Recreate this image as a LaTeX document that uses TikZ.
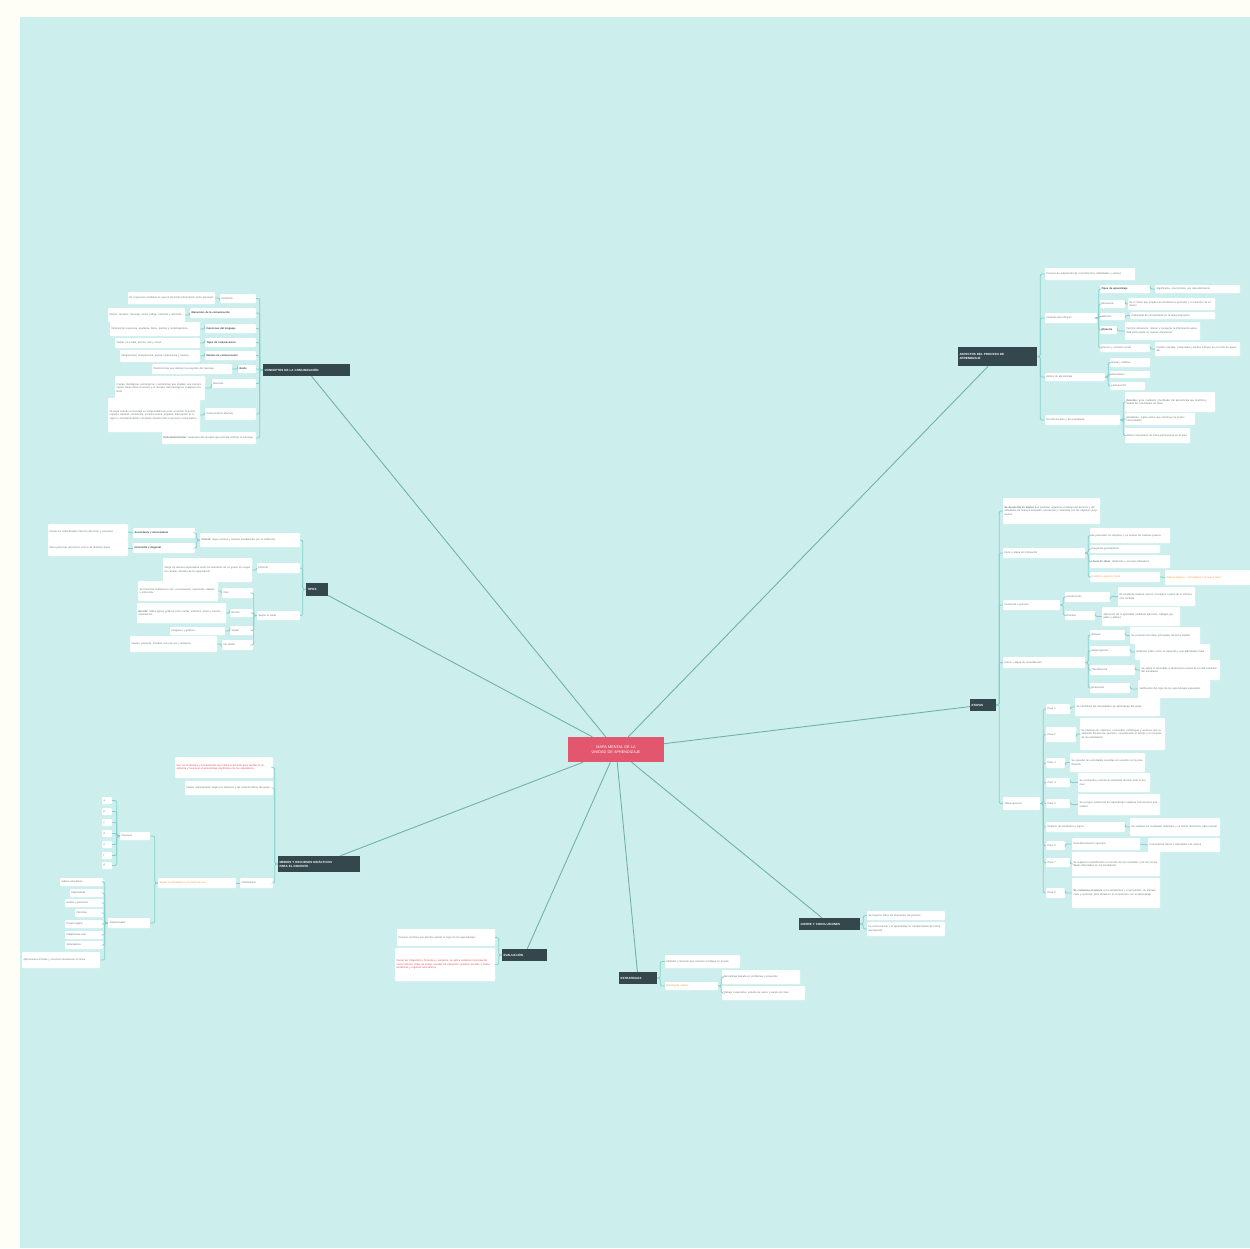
\documentclass[tikz,border=0pt]{standalone}
\usepackage{fontspec}
\setmainfont{Liberation Sans}
\definecolor{bgteal}{HTML}{CCEFEE}
\definecolor{cream}{HTML}{FEFDF6}
\definecolor{mainred}{HTML}{E2576D}
\definecolor{topicdk}{HTML}{33474D}
\definecolor{lnk}{HTML}{86CFCA}
\definecolor{leaftxt}{HTML}{6E7A7C}
\definecolor{orng}{HTML}{E6A24A}
\definecolor{rdt}{HTML}{E0505A}
\tikzset{
 leaf/.style={fill=white, rounded corners=1pt, text=leaftxt, font=\fontsize{2.6}{3.5}\selectfont, align=left, inner xsep=1.5pt, inner ysep=0.5pt},
 leafb/.style={leaf, text=topicdk, font=\fontsize{2.6}{3.5}\selectfont\bfseries},
 leafo/.style={leaf, text=orng},
 leafr/.style={leaf, text=rdt},
 topic/.style={fill=topicdk, text=white, font=\fontsize{3}{4}\selectfont\bfseries, align=left, inner xsep=1.5pt, inner ysep=0.5pt},
 central/.style={fill=mainred, text=white, font=\fontsize{3.8}{4.8}\selectfont, align=center, inner xsep=1.5pt},
 conn/.style={draw=lnk, line width=0.8pt, rounded corners=2pt},
 mainconn/.style={draw=lnk!85!black, line width=0.9pt},
}
\newcommand\mmbox[7][leaf]{%
 \pgfmathsetmacro\mmw{#5-(#3)}%
 \pgfmathsetmacro\mmh{#6-(#4)}%
 \pgfmathsetmacro\mmt{max(#5-(#3)-3,1)}%
 \pgfmathsetmacro\mmx{(#3+#5)/2}%
 \pgfmathsetmacro\mmy{(#4+#6)/2}%
 \node[#1, minimum width=\mmw pt, minimum height=\mmh pt, text width=\mmt pt] (#2) at (\mmx,\mmy) {#7};}
\newcommand\lnkL[2]{\draw[conn] (#1.west) -- ++(-3,0) |- (#2.east);}
\newcommand\lnkR[2]{\draw[conn] (#1.east) -- ++(3,0) |- (#2.west);}
\begin{document}
\begin{tikzpicture}[x=1pt,y=-1pt]
\useasboundingbox (0,0) rectangle (1250,1248);
\fill[cream] (0,0) rectangle (1250,1248);
\fill[bgteal] (20,17) rectangle (1250,1248);

% ---------- central and topics ----------
\mmbox[central]{c}{568}{737}{664}{762}{MAPA MENTAL DE LA\\ UNIDAD DE APRENDIZAJE}
\mmbox[topic]{tl}{263}{364}{350}{376}{CONCEPTOS DE LA COMUNICACIÓN}
\mmbox[topic]{tr}{958}{347}{1037}{366}{ASPECTOS DEL PROCESO DE\\ APRENDIZAJE}
\mmbox[topic]{lt}{306}{583}{328}{596}{TIPOS}
\mmbox[topic]{rt}{970}{699}{996}{711}{ETAPAS}
\mmbox[topic]{bl}{278}{856}{360}{872}{MEDIOS Y RECURSOS DIDÁCTICOS\\ PARA EL DOCENTE}
\mmbox[topic]{bm}{502}{949}{547}{961}{EVALUACIÓN}
\mmbox[topic]{bt}{619}{972}{657}{984}{ESTRATEGIAS}
\mmbox[topic]{br}{799}{918}{860}{930}{CIERRE Y CONCLUSIONES}

\draw[mainconn] (c) -- (tl);
\draw[mainconn] (c) -- (tr);
\draw[mainconn] (c) -- (lt);
\draw[mainconn] (c) -- (rt);
\draw[mainconn] (c) -- (bl);
\draw[mainconn] (c) -- (bm);
\draw[mainconn] (c) -- (bt);
\draw[mainconn] (c) -- (br);

% ---------- top left ----------
\mmbox{tl1}{220}{294}{256}{303}{Definición}
\mmbox{tl1a}{128}{292}{215}{304}{Es el proceso mediante el cual se transmite información entre personas}
\mmbox[leafb]{tl2}{190}{308}{256}{318}{Elementos de la comunicación}
\mmbox{tl2a}{108}{308}{185}{322}{Emisor, receptor, mensaje, canal, código, contexto y referente}
\mmbox[leafb]{tl3}{205}{324}{256}{333}{Funciones del lenguaje}
\mmbox{tl3a}{110}{322}{200}{336}{Referencial, expresiva, apelativa, fática, poética y metalingüística}
\mmbox[leafb]{tl4}{205}{338}{256}{347}{Tipos de comunicación}
\mmbox{tl4a}{115}{338}{200}{348}{Verbal, no verbal, escrita, oral y visual}
\mmbox[leafb]{tl5}{205}{351}{256}{360}{Niveles de comunicación}
\mmbox{tl5a}{120}{350}{200}{362}{Intrapersonal, interpersonal, grupal, institucional y masiva}
\mmbox[leafb]{tl6}{238}{365}{256}{373}{Ruido}
\mmbox{tl6a}{152}{364}{232}{374}{Interferencias que afectan la recepción del mensaje}
\mmbox{tl7}{212}{379}{256}{388}{Barreras}
\mmbox{tl7a}{115}{376}{205}{400}{Físicas, fisiológicas, psicológicas y semánticas que impiden una comunicación eficaz entre el emisor y el receptor del mensaje en cualquier contexto}
\mmbox{tl8}{205}{408}{256}{420}{Comunicación efectiva}
\mmbox{tl8a}{108}{398}{200}{432}{Se logra cuando el mensaje es comprendido tal como el emisor lo pensó; requiere claridad, coherencia, escucha activa, empatía, adecuación al receptor y retroalimentación constante durante todo el proceso comunicativo}
\mmbox{tl9}{162}{432}{256}{444}{\textbf{Retroalimentación:} respuesta del receptor que permite verificar el mensaje}
\foreach \k in {tl1,tl2,tl3,tl4,tl5,tl6,tl7,tl8,tl9} {\lnkL{tl}{\k}}
\foreach \k in {tl1,tl2,tl3,tl4,tl5,tl6,tl7,tl8} {\draw[conn] (\k.west) -- (\k a.east -| \k.west) -- (\k a.east);}

% ---------- top right ----------
\mmbox{tr1}{1045}{268}{1135}{280}{Proceso de adquisición de conocimientos, habilidades y valores}
\mmbox{tr2}{1045}{313}{1097}{323}{Factores que influyen}
\mmbox[leafb]{tr2a}{1100}{285}{1150}{293}{Tipos de aprendizaje}
\mmbox{tr2a1}{1155}{285}{1240}{293}{Significativo, memorístico, por descubrimiento}
\mmbox{tr2b}{1100}{300}{1125}{308}{Motivación}
\mmbox{tr2b1}{1128}{298}{1215}{310}{Es el motor que impulsa al estudiante a aprender y a mantener su esfuerzo}
\mmbox{tr2c}{1100}{313}{1125}{320}{Atención}
\mmbox{tr2c1}{1130}{312}{1215}{319}{Capacidad de concentrarse en la tarea propuesta}
\mmbox[leafb]{tr2d}{1100}{326}{1117}{334}{Memoria}
\mmbox{tr2d1}{1125}{322}{1200}{340}{Permite almacenar, retener y recuperar la información aprendida para usarla en nuevas situaciones}
\mmbox{tr2e}{1100}{344}{1150}{352}{Entorno y contexto social}
\mmbox{tr2e1}{1155}{342}{1240}{356}{Familia, escuela, comunidad y medios influyen en el modo de aprender}
\mmbox{tr3}{1045}{373}{1105}{381}{Estilos de aprendizaje}
\mmbox{tr3a}{1110}{358}{1150}{367}{Visual y auditivo}
\mmbox{tr3b}{1110}{371}{1150}{378}{Kinestésico}
\mmbox{tr3c}{1110}{382}{1145}{390}{Lectoescritor}
\mmbox{tr4}{1045}{415}{1120}{425}{Rol del docente y del estudiante}
\mmbox{tr4a}{1125}{392}{1215}{412}{\textbf{Docente:} guía, mediador y facilitador del aprendizaje que planifica y evalúa las actividades de clase}
\mmbox{tr4b}{1125}{413}{1195}{425}{Estudiante: sujeto activo que construye su propio conocimiento}
\mmbox{tr4c}{1125}{428}{1190}{443}{Ambos interactúan de forma permanente en el aula}
\foreach \k in {tr1,tr2,tr3,tr4} {\lnkR{tr}{\k}}
\foreach \k in {tr2a,tr2b,tr2c,tr2d,tr2e} {\draw[conn] (tr2.east) -- ++(1.5,0) |- (\k.west);}
\foreach \k in {tr2a,tr2b,tr2c,tr2d,tr2e} {\draw[conn] (\k.east) -- (\k 1.west -| \k.east) -- (\k 1.west);}
\foreach \k in {tr3a,tr3b,tr3c} {\lnkR{tr3}{\k}}
\foreach \k in {tr4a,tr4b,tr4c} {\lnkR{tr4}{\k}}

% ---------- left ----------
\mmbox{l1}{200}{533}{300}{547}{\textbf{Formal:} sigue normas y canales establecidos por la institución}
\mmbox[leafb]{l1a}{133}{528}{195}{538}{Ascendente y descendente}
\mmbox[leafb]{l1b}{133}{543}{195}{553}{Horizontal y diagonal}
\mmbox{l1a1}{48}{524}{128}{540}{Desde los subordinados hacia la dirección y viceversa}
\mmbox{l1b1}{48}{540}{128}{556}{Entre personas del mismo nivel o de distintas áreas}
\mmbox{l2}{257}{563}{300}{573}{Informal}
\mmbox{l2a}{163}{558}{252}{582}{Surge de manera espontánea entre los miembros de un grupo, sin seguir los canales oficiales de la organización}
\mmbox{l3}{257}{611}{300}{620}{Según el canal}
\mmbox{l3a}{222}{588}{253}{598}{Oral}
\mmbox{l3a1}{138}{581}{218}{601}{Se transmite mediante la voz: conversación, exposición, debate o entrevista}
\mmbox{l3b}{230}{609}{253}{617}{Escrita}
\mmbox{l3b1}{137}{603}{226}{623}{\textbf{Escrita:} utiliza signos gráficos como cartas, informes, actas y correos electrónicos}
\mmbox{l3c}{230}{626}{253}{635}{Visual}
\mmbox{l3c1}{170}{627}{225}{635}{Imágenes y gráficos}
\mmbox{l3d}{222}{640}{253}{650}{No verbal}
\mmbox{l3d1}{130}{636}{217}{652}{Gestos, posturas, miradas, tono de voz y distancia}
\foreach \k in {l1,l2,l3} {\lnkL{lt}{\k}}
\foreach \k in {l1a,l1b} {\lnkL{l1}{\k}}
\draw[conn] (l1a.west) -- (l1a1.east);
\draw[conn] (l1b.west) -- (l1b1.east);
\draw[conn] (l2.west) -- (l2a.east -| l2.west) -- (l2a.east);
\foreach \k in {l3a,l3b,l3c,l3d} {\lnkL{l3}{\k}}
\foreach \k in {l3a,l3b,l3c,l3d} {\draw[conn] (\k.west) -- (\k 1.east -| \k.west) -- (\k 1.east);}

% ---------- right ----------
\mmbox{r1}{1003}{498}{1100}{524}{\textbf{Se desarrolla en etapas} que permiten organizar el trabajo del docente y del estudiante de manera ordenada, secuencial y coherente con los objetivos propuestos}
\mmbox{r2}{1003}{548}{1085}{558}{Inicio o etapa de motivación}
\mmbox{r2a}{1090}{528}{1170}{543}{Se presentan los objetivos y se activan los saberes previos}
\mmbox{r2b}{1090}{545}{1160}{553}{Preguntas generadoras}
\mmbox{r2c}{1090}{555}{1170}{568}{\textbf{Lluvia de ideas}, dinámicas y recursos llamativos}
\mmbox[leafo]{r2d}{1090}{572}{1160}{582}{Conflicto cognitivo inicial}
\mmbox[leafo]{r2d1}{1165}{570}{1250}{585}{Genera interés y curiosidad por el nuevo tema}
\mmbox{r3}{1003}{600}{1060}{610}{Desarrollo o proceso}
\mmbox{r3a}{1065}{592}{1110}{602}{Construcción}
\mmbox{r3a1}{1118}{587}{1195}{606}{El estudiante elabora nuevos conceptos a partir de la información recibida}
\mmbox{r3b}{1065}{611}{1095}{620}{Práctica}
\mmbox{r3b1}{1102}{607}{1180}{626}{Aplicación de lo aprendido mediante ejercicios, trabajos grupales y talleres}
\mmbox{r4}{1003}{657}{1085}{668}{Cierre o etapa de consolidación}
\mmbox{r4a}{1090}{630}{1125}{640}{Síntesis}
\mmbox{r4a1}{1130}{627}{1200}{644}{Se resumen las ideas principales del tema tratado}
\mmbox{r4b}{1090}{646}{1130}{656}{Metacognición}
\mmbox{r4b1}{1135}{644}{1210}{660}{Reflexión sobre cómo se aprendió y qué dificultades hubo}
\mmbox{r4c}{1090}{665}{1135}{675}{Transferencia}
\mmbox{r4c1}{1140}{660}{1220}{680}{Se aplica lo aprendido a situaciones nuevas de la vida cotidiana del estudiante}
\mmbox{r4d}{1090}{683}{1130}{693}{Evaluación}
\mmbox{r4d1}{1138}{680}{1210}{698}{Verificación del logro de los aprendizajes esperados}
\mmbox{r5}{1003}{797}{1040}{810}{Observaciones}
\mmbox{r5a}{1046}{704}{1070}{714}{Paso 1}
\mmbox{r5a1}{1075}{698}{1160}{716}{Se identifican las necesidades de aprendizaje del grupo}
\mmbox{r5b}{1046}{727}{1076}{742}{Paso 2}
\mmbox{r5b1}{1080}{718}{1165}{750}{Se plantean los objetivos, contenidos, estrategias y recursos que se utilizarán durante las sesiones, considerando el tiempo y el contexto de los estudiantes}
\mmbox{r5c}{1046}{758}{1065}{768}{Paso 3}
\mmbox{r5c1}{1070}{753}{1145}{772}{Se ejecutan las actividades previstas de acuerdo con la planificación}
\mmbox{r5d}{1046}{778}{1070}{787}{Paso 4}
\mmbox{r5d1}{1078}{773}{1150}{792}{Se acompaña y orienta al estudiante durante todo el proceso}
\mmbox{r5e}{1046}{799}{1070}{808}{Paso 5}
\mmbox{r5e1}{1078}{794}{1160}{815}{Se recogen evidencias del aprendizaje mediante instrumentos adecuados}
\mmbox{r5f}{1046}{822}{1125}{832}{Registro de resultados y logros}
\mmbox{r5f1}{1130}{818}{1220}{836}{Se analizan los resultados obtenidos y se toman decisiones para mejorar}
\mmbox{r5g}{1046}{841}{1065}{850}{Paso 6}
\mmbox{r5g1}{1072}{838}{1140}{850}{Retroalimentación oportuna}
\mmbox{r5g2}{1148}{838}{1220}{852}{Comentarios claros y orientados a la mejora}
\mmbox{r5h}{1046}{858}{1070}{867}{Paso 7}
\mmbox{r5h1}{1072}{852}{1160}{876}{Se reajusta la planificación en función de los resultados y de las necesidades detectadas en los estudiantes}
\mmbox{r5i}{1046}{888}{1065}{898}{Paso 8}
\mmbox{r5i1}{1072}{878}{1160}{908}{\textbf{Se comunica el avance} a los estudiantes y a las familias, de manera clara y oportuna, para fortalecer el compromiso con el aprendizaje}
\foreach \k in {r1,r2,r3,r4,r5} {\lnkR{rt}{\k}}
\foreach \k in {r2a,r2b,r2c,r2d} {\lnkR{r2}{\k}}
\draw[conn] (r2d.east) -- (r2d1.west);
\foreach \k in {r3a,r3b} {\lnkR{r3}{\k}}
\foreach \k in {r4a,r4b,r4c,r4d} {\lnkR{r4}{\k}}
\foreach \k in {r3a,r3b,r4a,r4b,r4c,r4d} {\draw[conn] (\k.east) -- (\k 1.west -| \k.east) -- (\k 1.west);}
\foreach \k in {r5a,r5b,r5c,r5d,r5e,r5f,r5g,r5h,r5i} {\lnkR{r5}{\k}}
\foreach \k in {r5a,r5b,r5c,r5d,r5e,r5f,r5g,r5h,r5i} {\draw[conn] (\k.east) -- (\k 1.west -| \k.east) -- (\k 1.west);}
\draw[conn] (r5g1.east) -- (r5g2.west);

% ---------- bottom left ----------
\mmbox[leafr]{bl1}{175}{757}{273}{778}{Son los materiales y herramientas que utiliza el docente para facilitar la enseñanza y favorecer el aprendizaje significativo de los estudiantes}
\mmbox{bl2}{185}{781}{273}{795}{Deben seleccionarse según los objetivos y las características del grupo}
\mmbox{bl3}{240}{878}{273}{888}{Clasificación}
\mmbox[leafo]{bl3a}{158}{878}{236}{888}{Según su naturaleza y su forma de uso}
\mmbox{bla}{120}{832}{150}{840}{Impresos}
\mmbox{blb}{108}{918}{150}{928}{Audiovisuales}
\foreach \i/\t [count=\n] in {797/a,808/b,819/c,830/d,841/e,852/f,862/g} {\mmbox{bla\n}{102}{\i}{112}{\i+7}{\t}}
\mmbox{blb1}{60}{878}{103}{886}{Videos educativos}
\mmbox{blb2}{70}{889}{103}{897}{Diapositivas}
\mmbox{blb3}{65}{899}{103}{907}{Audios y podcasts}
\mmbox{blb4}{75}{909}{103}{917}{Películas}
\mmbox{blb5}{65}{920}{103}{928}{Pizarra digital}
\mmbox{blb6}{65}{931}{103}{939}{Plataformas web}
\mmbox{blb7}{65}{941}{103}{949}{Simuladores}
\mmbox{blb8}{22}{952}{100}{968}{Aplicaciones móviles y recursos interactivos en línea}
\foreach \k in {bl1,bl2,bl3} {\lnkL{bl}{\k}}
\draw[conn] (bl3.west) -- (bl3a.east);
\foreach \k in {bla,blb} {\lnkL{bl3a}{\k}}
\foreach \n in {1,...,7} {\lnkL{bla}{bla\n}}
\foreach \n in {1,...,8} {\lnkL{blb}{blb\n}}

% ---------- bottom middle ----------
\mmbox{bm1}{397}{929}{495}{946}{Proceso continuo que permite valorar el logro de los aprendizajes}
\mmbox[leafr]{bm2}{395}{948}{495}{981}{Puede ser diagnóstica, formativa y sumativa; se aplica mediante instrumentos como rúbricas, listas de cotejo, escalas de valoración, pruebas escritas y orales, portafolios y registros anecdóticos}
\foreach \k in {bm1,bm2} {\lnkL{bm}{\k}}

% ---------- bottom ----------
\mmbox{bt1}{665}{955}{740}{968}{Métodos y técnicas que orientan el trabajo en el aula}
\mmbox[leafo]{bt2}{665}{982}{718}{990}{Estrategias activas}
\mmbox{bt2a}{722}{970}{800}{984}{Aprendizaje basado en problemas y proyectos}
\mmbox{bt2b}{722}{986}{805}{1000}{Trabajo cooperativo, estudio de casos y juegos de roles}
\foreach \k in {bt1,bt2} {\lnkR{bt}{\k}}
\foreach \k in {bt2a,bt2b} {\lnkR{bt2}{\k}}

% ---------- bottom right ----------
\mmbox{br1}{867}{911}{945}{920}{Se integran todos los elementos del proceso}
\mmbox{br2}{867}{922}{945}{936}{La comunicación y el aprendizaje se complementan de forma permanente}
\foreach \k in {br1,br2} {\lnkR{br}{\k}}
\end{tikzpicture}
\end{document}
